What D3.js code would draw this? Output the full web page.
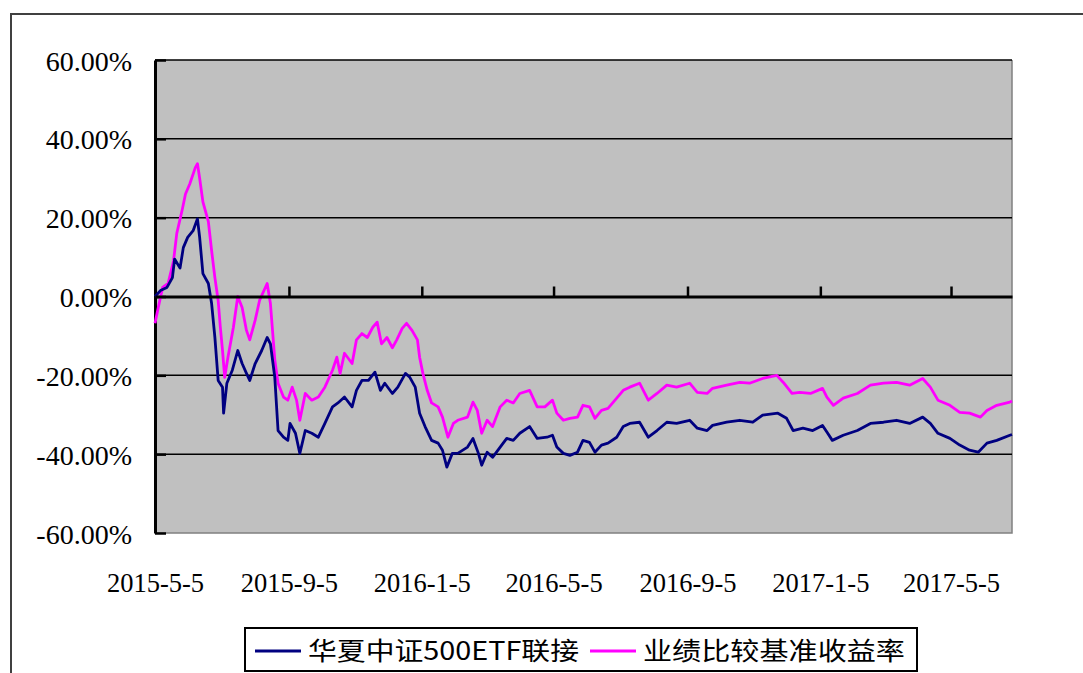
<!DOCTYPE html>
<html>
<head>
<meta charset="utf-8">
<script src="https://cdn.jsdelivr.net/npm/d3@7"></script>
<style>
  html, body { margin: 0; padding: 0; background: #fff; }
  svg { display: block; }
</style>
</head>
<body>
<svg id="chart"></svg>
<script>
/* data */
const seriesNames = ["华夏中证500ETF联接", "业绩比较基准收益率"];
const xTickLabels = ["2015-5-5", "2015-9-5", "2016-1-5", "2016-5-5", "2016-9-5", "2017-1-5", "2017-5-5"];
const yTickValues = [-60, -40, -20, 0, 20, 40, 60];
const dateRange = ["2015-05-05", "2017-06-30"];

// fund return, %
const fundData = [
  ["2015-05-05", 0], ["2015-05-10", 1.5], ["2015-05-16", 2.3], ["2015-05-21", 4.8],
  ["2015-05-23", 9.5], ["2015-05-28", 7.2], ["2015-05-31", 12.4], ["2015-06-04", 15],
  ["2015-06-09", 16.7], ["2015-06-13", 19.7], ["2015-06-15", 15], ["2015-06-18", 5.8],
  ["2015-06-23", 3.3], ["2015-06-26", -1.8], ["2015-06-29", -10.4], ["2015-07-02", -21.3],
  ["2015-07-06", -23], ["2015-07-07", -29.6], ["2015-07-10", -22], ["2015-07-15", -18.7],
  ["2015-07-20", -13.7], ["2015-07-24", -17], ["2015-07-28", -19.5], ["2015-07-31", -21.3],
  ["2015-08-05", -17], ["2015-08-11", -13.7], ["2015-08-16", -10.4], ["2015-08-19", -12],
  ["2015-08-23", -20.5], ["2015-08-26", -34], ["2015-08-31", -35.7], ["2015-09-04", -36.5],
  ["2015-09-06", -32.2], ["2015-09-11", -34.7], ["2015-09-15", -39.8], ["2015-09-20", -34],
  ["2015-09-26", -34.7], ["2015-10-02", -35.7], ["2015-10-08", -32.2], ["2015-10-15", -28],
  ["2015-10-20", -27], ["2015-10-26", -25.5], ["2015-11-02", -28], ["2015-11-06", -23.8],
  ["2015-11-11", -21.3], ["2015-11-17", -21.3], ["2015-11-23", -19.2], ["2015-11-28", -23.8],
  ["2015-12-02", -22], ["2015-12-09", -24.6], ["2015-12-14", -23], ["2015-12-21", -19.5],
  ["2015-12-25", -20.5], ["2015-12-30", -23], ["2016-01-03", -29.6], ["2016-01-08", -33],
  ["2016-01-14", -36.5], ["2016-01-20", -37.2], ["2016-01-24", -39], ["2016-01-28", -43.3],
  ["2016-02-02", -39.8], ["2016-02-07", -39.8], ["2016-02-16", -38.2], ["2016-02-21", -36],
  ["2016-02-26", -39.8], ["2016-02-29", -42.8], ["2016-03-05", -39.5], ["2016-03-10", -40.8],
  ["2016-03-17", -38.2], ["2016-03-23", -36], ["2016-03-29", -36.5], ["2016-04-04", -34.7],
  ["2016-04-13", -33], ["2016-04-20", -36], ["2016-04-29", -35.7], ["2016-05-04", -35.2],
  ["2016-05-08", -38.2], ["2016-05-14", -39.8], ["2016-05-20", -40.3], ["2016-05-27", -39.5],
  ["2016-06-01", -36.5], ["2016-06-07", -37], ["2016-06-12", -39.5], ["2016-06-18", -37.7],
  ["2016-06-24", -37.2], ["2016-07-02", -35.7], ["2016-07-08", -33], ["2016-07-14", -32.2],
  ["2016-07-23", -31.9], ["2016-07-31", -35.7], ["2016-08-08", -34], ["2016-08-17", -31.9],
  ["2016-08-26", -32.2], ["2016-09-07", -31.4], ["2016-09-14", -33.4], ["2016-09-23", -34],
  ["2016-09-28", -32.7], ["2016-10-11", -31.9], ["2016-10-23", -31.4], ["2016-11-04", -31.9],
  ["2016-11-13", -30.1], ["2016-11-27", -29.6], ["2016-12-05", -30.9], ["2016-12-11", -34],
  ["2016-12-20", -33.4], ["2016-12-29", -34], ["2017-01-07", -32.7], ["2017-01-11", -34.4],
  ["2017-01-16", -36.5], ["2017-01-26", -35.2], ["2017-02-08", -34], ["2017-02-20", -32.2],
  ["2017-03-04", -31.9], ["2017-03-16", -31.4], ["2017-03-28", -32.2], ["2017-04-09", -30.6],
  ["2017-04-16", -32.2], ["2017-04-23", -34.7], ["2017-05-04", -36], ["2017-05-13", -37.7],
  ["2017-05-22", -39], ["2017-05-30", -39.5], ["2017-06-07", -37.2], ["2017-06-16", -36.5],
  ["2017-06-28", -35.2], ["2017-06-30", -35]
];

// benchmark return, %
const benchData = [
  ["2015-05-05", -6.8], ["2015-05-08", -2.8], ["2015-05-12", 2.3], ["2015-05-17", 3.3],
  ["2015-05-22", 9], ["2015-05-25", 16], ["2015-05-30", 22], ["2015-06-02", 26],
  ["2015-06-06", 28.6], ["2015-06-11", 32.7], ["2015-06-13", 33.7], ["2015-06-15", 30],
  ["2015-06-18", 24], ["2015-06-23", 19], ["2015-06-26", 11.6], ["2015-06-29", 4.8],
  ["2015-07-02", -1], ["2015-07-04", -7.8], ["2015-07-06", -13.7], ["2015-07-08", -20.5],
  ["2015-07-11", -15.4], ["2015-07-16", -7.8], ["2015-07-20", 0], ["2015-07-24", -2.8],
  ["2015-07-28", -8.6], ["2015-07-31", -11], ["2015-08-05", -6], ["2015-08-09", -1],
  ["2015-08-16", 3.3], ["2015-08-19", -1.8], ["2015-08-23", -16], ["2015-08-26", -22],
  ["2015-08-31", -25.5], ["2015-09-04", -26.3], ["2015-09-08", -23], ["2015-09-12", -26.3],
  ["2015-09-15", -31.4], ["2015-09-20", -24.6], ["2015-09-26", -26.3], ["2015-10-02", -25.5],
  ["2015-10-08", -23], ["2015-10-15", -18.7], ["2015-10-19", -15.4], ["2015-10-22", -19.5],
  ["2015-10-26", -14.4], ["2015-11-02", -17], ["2015-11-06", -11], ["2015-11-11", -9.4],
  ["2015-11-16", -10.4], ["2015-11-21", -7.8], ["2015-11-25", -6.5], ["2015-11-29", -12],
  ["2015-12-04", -10.4], ["2015-12-09", -13], ["2015-12-13", -11], ["2015-12-18", -8.1],
  ["2015-12-22", -6.8], ["2015-12-27", -8.6], ["2016-01-01", -11], ["2016-01-03", -15.4],
  ["2016-01-06", -19.5], ["2016-01-10", -23.8], ["2016-01-14", -27], ["2016-01-20", -28],
  ["2016-01-24", -30.6], ["2016-01-29", -35.7], ["2016-02-03", -32.2], ["2016-02-07", -31.4],
  ["2016-02-16", -30.6], ["2016-02-21", -26.8], ["2016-02-25", -28.9], ["2016-02-29", -34.7],
  ["2016-03-05", -31.4], ["2016-03-10", -33], ["2016-03-17", -28], ["2016-03-23", -26.3],
  ["2016-03-29", -27], ["2016-04-04", -24.6], ["2016-04-13", -23.8], ["2016-04-20", -28],
  ["2016-04-27", -28], ["2016-05-04", -26.3], ["2016-05-08", -29.6], ["2016-05-14", -31.4],
  ["2016-05-20", -30.9], ["2016-05-27", -30.6], ["2016-06-01", -27.6], ["2016-06-07", -28],
  ["2016-06-12", -30.9], ["2016-06-18", -28.9], ["2016-06-24", -28.4], ["2016-07-02", -25.8],
  ["2016-07-08", -23.8], ["2016-07-14", -23], ["2016-07-23", -22], ["2016-07-31", -26.3],
  ["2016-08-08", -24.6], ["2016-08-17", -22.5], ["2016-08-26", -23], ["2016-09-07", -22],
  ["2016-09-14", -24.3], ["2016-09-23", -24.6], ["2016-09-28", -23.3], ["2016-10-11", -22.5],
  ["2016-10-23", -21.8], ["2016-11-01", -22], ["2016-11-13", -20.8], ["2016-11-26", -20],
  ["2016-12-02", -21.8], ["2016-12-10", -24.6], ["2016-12-17", -24.3], ["2016-12-27", -24.6],
  ["2017-01-07", -23.3], ["2017-01-11", -25.5], ["2017-01-17", -27.6], ["2017-01-26", -25.8],
  ["2017-02-08", -24.6], ["2017-02-20", -22.5], ["2017-03-04", -22], ["2017-03-16", -21.8],
  ["2017-03-28", -22.5], ["2017-04-09", -20.8], ["2017-04-16", -23], ["2017-04-23", -26.3],
  ["2017-05-04", -27.6], ["2017-05-13", -29.4], ["2017-05-22", -29.6], ["2017-06-01", -30.6],
  ["2017-06-07", -28.9], ["2017-06-16", -27.6], ["2017-06-28", -26.8], ["2017-06-30", -26.5]
];

const seriesColors = ["#000080", "#ff00ff"];

/* draw the return comparison chart */
class ReturnChart {
  constructor(containerId) {
    this.width = 1083;
    this.height = 673;
    // plot area inside the svg
    this.margin = { top: 60, right: 71, bottom: 140, left: 155 };
    this.innerWidth = this.width - this.margin.left - this.margin.right;
    this.innerHeight = this.height - this.margin.top - this.margin.bottom;
    this.svg = d3
      .select(containerId)
      .attr("width", this.width)
      .attr("height", this.height);
    this.parseDate = d3.timeParse("%Y-%m-%d");
    this.parseLabel = d3.timeParse("%Y-%-m-%-d");
  }

  createScales() {
    this.x = d3
      .scaleTime()
      .domain(dateRange.map(this.parseDate))
      .range([0, this.innerWidth]);
    this.y = d3
      .scaleLinear()
      .domain([d3.min(yTickValues), d3.max(yTickValues)])
      .range([this.innerHeight, 0]);
  }

  draw() {
    this.createScales();
    const svg = this.svg;
    const x = this.x;
    const y = this.y;

    // outer frame, only top & left edges fall inside the picture
    svg
      .append("path")
      .attr("d", `M11,${this.height + 5}V14H${this.width + 5}`)
      .attr("fill", "none")
      .attr("stroke", "#404040")
      .attr("stroke-width", 2);

    const g = svg
      .append("g")
      .attr("transform", `translate(${this.margin.left},${this.margin.top})`);

    // plot background
    g.append("rect")
      .attr("width", this.innerWidth)
      .attr("height", this.innerHeight)
      .attr("fill", "#c0c0c0");
    g.append("path")
      .attr("d", `M${this.innerWidth},0V${this.innerHeight}H0`)
      .attr("fill", "none")
      .attr("stroke", "#808080")
      .attr("stroke-width", 1.5);

    // horizontal grid
    g.append("g")
      .selectAll("line")
      .data(yTickValues.filter((d) => d !== 0 && d !== d3.min(yTickValues)))
      .join("line")
      .attr("x1", 0)
      .attr("x2", this.innerWidth)
      .attr("y1", (d) => y(d))
      .attr("y2", (d) => y(d))
      .attr("stroke", "#000")
      .attr("stroke-width", 1.5);

    // y axis, plain hyphen for negatives like the original
    const yAxis = d3
      .axisLeft(y)
      .tickValues(yTickValues)
      .tickSizeInner(-11)
      .tickSizeOuter(0)
      .tickPadding(23)
      .tickFormat((d) => d.toFixed(2) + "%");
    const yAxisG = g.append("g").call(yAxis);
    yAxisG.select(".domain").attr("stroke", "#000").attr("stroke-width", 3);
    yAxisG.selectAll(".tick line").attr("stroke", "#000").attr("stroke-width", 2.5);
    yAxisG
      .selectAll("text")
      .attr("fill", "#000")
      .attr("font-family", "'Liberation Serif', 'Times New Roman', serif")
      .attr("font-size", 28)
      .attr("dy", "0.36em");

    // series lines
    const line = d3
      .line()
      .x((d) => x(this.parseDate(d[0])))
      .y((d) => y(d[1]));
    [benchData, fundData].forEach((data) => {
      const i = data === fundData ? 0 : 1;
      g.append("path")
        .datum(data)
        .attr("fill", "none")
        .attr("stroke", seriesColors[i])
        .attr("stroke-width", 2.8)
        .attr("stroke-linejoin", "round")
        .attr("d", line);
    });

    // zero line with date ticks
    const tickDates = xTickLabels.map(this.parseLabel);
    const xAxisZero = d3
      .axisBottom(x)
      .tickValues(tickDates.slice(1))
      .tickSizeInner(-10)
      .tickSizeOuter(0)
      .tickFormat("");
    const zeroG = g
      .append("g")
      .attr("transform", `translate(0,${y(0)})`)
      .call(xAxisZero);
    zeroG.select(".domain").attr("stroke", "#000").attr("stroke-width", 3);
    zeroG.selectAll(".tick line").attr("stroke", "#000").attr("stroke-width", 2.5);

    // date labels below the plot
    const xAxisLabels = d3
      .axisBottom(x)
      .tickValues(tickDates)
      .tickSize(0)
      .tickPadding(40)
      .tickFormat((d, i) => xTickLabels[i]);
    const labelG = g
      .append("g")
      .attr("transform", `translate(0,${this.innerHeight})`)
      .call(xAxisLabels);
    labelG.select(".domain").remove();
    labelG
      .selectAll("text")
      .attr("fill", "#000")
      .attr("font-family", "'Liberation Serif', 'Times New Roman', serif")
      .attr("font-size", 26.5);

    this.drawLegend();
  }

  drawLegend() {
    const legend = this.svg.append("g").attr("transform", "translate(245,628)");
    legend
      .append("rect")
      .attr("width", 672)
      .attr("height", 43)
      .attr("fill", "#fff")
      .attr("stroke", "#000")
      .attr("stroke-width", 2);
    const items = [
      { x: 10, textLen: 271 },
      { x: 345, textLen: 262 },
    ];
    items.forEach((item, i) => {
      legend
        .append("line")
        .attr("x1", item.x)
        .attr("x2", item.x + 46)
        .attr("y1", 23)
        .attr("y2", 23)
        .attr("stroke", seriesColors[i])
        .attr("stroke-width", 3);
      legend
        .append("text")
        .attr("x", item.x + 53)
        .attr("y", 32)
        .attr("font-family", "'Noto Sans CJK SC', sans-serif")
        .attr("font-size", 25)
        .attr("textLength", item.textLen)
        .attr("lengthAdjust", "spacingAndGlyphs")
        .attr("fill", "#000")
        .text(seriesNames[i]);
    });
  }
}

const chart = new ReturnChart("#chart");
chart.draw();
</script>
</body>
</html>
